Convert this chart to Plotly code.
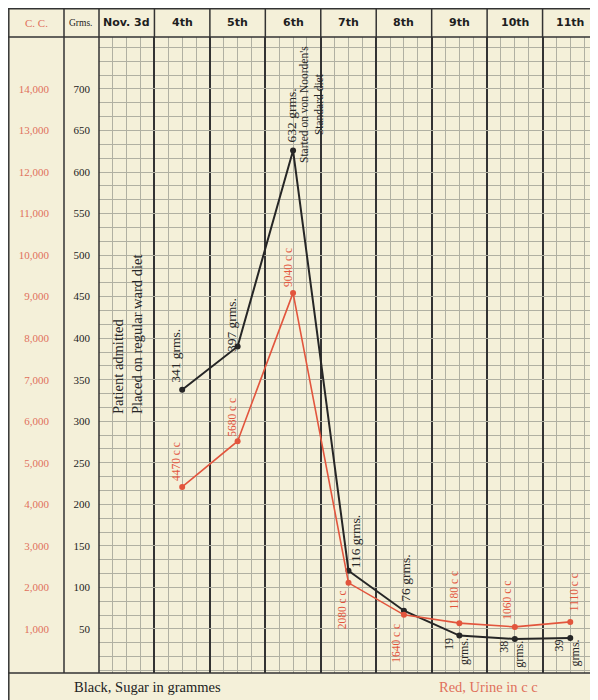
import plotly.graph_objects as go

# days (column index 0 = Nov. 3d)
day_labels = ["Nov. 3d", "4th", "5th", "6th", "7th", "8th", "9th", "10th", "11th"]
point_days = [1, 2, 3, 4, 5, 6, 7, 8]

# black: sugar in grammes
sugar_g = [338, 390, 626, 120, 72, 42, 38, 39]
sugar_text = ["341 grms.", "397 grms.", "632 grms.", "116 grms.", "76 grms.",
              "19<br>grms.", "38<br>grms.", "39<br>grms."]

# red: urine in c.c.
urine_cc = [4420, 5520, 9090, 2110, 1340, 1140, 1050, 1170]
urine_text = ["4470 c c", "5680 c c", "9040 c c", "2080 c c", "1640 c c",
              "1180 c c", "1060 c c", "1110 c c"]

grms_ticks = [50, 100, 150, 200, 250, 300, 350, 400, 450, 500, 550, 600, 650, 700]
cc_ticks = [1000, 2000, 3000, 4000, 5000, 6000, 7000, 8000, 9000, 10000,
            11000, 12000, 13000, 14000]
cc_ticktext = ["1,000", "2,000", "3,000", "4,000", "5,000", "6,000", "7,000",
               "8,000", "9,000", "10,000", "11,000", "12,000", "13,000", "14,000"]

BG = "#f4f0d9"
GRID = "#b0b0a2"
DARK = "#333333"
RED = "#e2553d"
RED_TXT = "#e0705c"
BLACK = "#262626"
SERIF = "Liberation Serif"

# the page puts the figure 8px in from the top-left corner
OFF = 8
W, H = 598 - OFF, 700 - OFF
L, T, B = 99 - OFF, 37 - OFF, 27
PW, PH = W - L, H - T - B


def px(x):
    # screen x -> paper x
    return (x - OFF - L) / PW


def py(y):
    # screen y -> paper y
    return (H - B - (y - OFF)) / PH


def dx(x):
    # screen x -> day-axis value
    return (x - OFF - L) / PW * 9


def gy(y):
    # screen y -> grammes
    return (670.5 - y) / 0.8308


xs = [d + 0.5 for d in point_days]

fig = go.Figure()
fig.add_trace(go.Scatter(
    x=xs, y=sugar_g, mode="lines+markers", yaxis="y",
    line=dict(color=BLACK, width=2), marker=dict(color=BLACK, size=6),
    hoverinfo="skip", showlegend=False,
))
fig.add_trace(go.Scatter(
    x=xs, y=urine_cc, mode="lines+markers", yaxis="y2",
    line=dict(color=RED, width=1.6), marker=dict(color=RED, size=6),
    hoverinfo="skip", showlegend=False,
))

annotations = []
mid = dict(xanchor="center", yanchor="middle", showarrow=False)

# header labels
for i, lab in enumerate(day_labels):
    annotations.append(dict(
        x=i + 0.5, y=py(23), xref="x", yref="paper", text=lab, **mid,
        font=dict(family="DejaVu Sans", size=11, color="#1e1e1e", weight="bold"),
    ))
annotations.append(dict(x=px(36), y=py(23), xref="paper", yref="paper", text="C. C.", **mid,
                        font=dict(family=SERIF, size=11, color=RED_TXT)))
annotations.append(dict(x=px(81), y=py(23), xref="paper", yref="paper", text="Grms.", **mid,
                        font=dict(family=SERIF, size=9.5, color="#222")))

# value labels, black
black_shift = [(-6, 34), (-6, 21), (-2, 35), (7, 29), (2, 33), (-3, -16), (-3, -15), (-3, -15)]
black_size = [13.5, 13.5, 13.5, 13.5, 13.5, 12, 12, 12]
for x, y, t, (sx, sy), fs in zip(xs, sugar_g, sugar_text, black_shift, black_size):
    annotations.append(dict(
        x=x, y=y, xref="x", yref="y", text=t, showarrow=False, textangle=-90,
        xshift=sx, yshift=sy, align="right",
        font=dict(family=SERIF, size=fs, color=BLACK),
    ))

# value labels, red
red_shift = [(-6, 25), (-5, 24), (-5, 25), (-7, -27), (-8, -28), (-5, 33), (-8, 27), (4, 30)]
for x, y, t, (sx, sy) in zip(xs, urine_cc, urine_text, red_shift):
    annotations.append(dict(
        x=x, y=y, xref="x", yref="y2", text=t, showarrow=False, textangle=-90,
        xshift=sx, yshift=sy,
        font=dict(family=SERIF, size=11.5, color=RED),
    ))

# notes
annotations.append(dict(
    x=dx(127), y=gy(335), xref="x", yref="y", textangle=-90, align="left",
    text="Patient admitted<br>Placed on regular ward diet", showarrow=False,
    font=dict(family=SERIF, size=14.5, color=BLACK),
))
annotations.append(dict(
    x=dx(312), y=gy(105), xref="x", yref="y", textangle=-90, align="center",
    text="Started on von Noorden's<br>Standard diet", showarrow=False,
    font=dict(family=SERIF, size=11.5, color=BLACK),
))

# footer
annotations.append(dict(x=px(72), y=py(687), xref="paper", yref="paper",
                        xanchor="left", yanchor="middle", showarrow=False,
                        text="Black, Sugar in grammes",
                        font=dict(family=SERIF, size=14.5, color="#222")))
annotations.append(dict(x=px(437), y=py(687), xref="paper", yref="paper",
                        xanchor="left", yanchor="middle", showarrow=False,
                        text="Red, Urine in c c",
                        font=dict(family=SERIF, size=14.5, color=RED_TXT)))

# frame lines
line_k = dict(color=DARK, width=1.5)
top = py(OFF + 0.8)
shapes = [
    dict(type="line", xref="paper", yref="paper", x0=px(OFF + 0.8), x1=px(OFF + 0.8),
         y0=top, y1=py(700), line=line_k),
    dict(type="line", xref="paper", yref="paper", x0=px(64), x1=px(64), y0=top, y1=py(673), line=line_k),
    dict(type="line", xref="paper", yref="paper", x0=px(99), x1=px(99), y0=top, y1=py(673), line=line_k),
    dict(type="line", xref="paper", yref="paper", x0=px(OFF), x1=px(598), y0=top, y1=top, line=line_k),
    dict(type="line", xref="paper", yref="paper", x0=px(OFF), x1=px(598), y0=py(37), y1=py(37), line=line_k),
    dict(type="line", xref="paper", yref="paper", x0=px(OFF), x1=px(598), y0=py(673), y1=py(673), line=line_k),
]
for i in range(1, 10):
    shapes.append(dict(type="line", xref="x", yref="paper", x0=i, x1=i,
                       y0=1, y1=top, line=line_k))

fig.update_layout(
    width=W, height=H,
    margin=dict(l=L, r=0, t=T, b=B),
    paper_bgcolor=BG, plot_bgcolor=BG,
    xaxis=dict(
        range=[0, 9], tick0=0, dtick=1, showticklabels=False, ticks="",
        showgrid=True, gridcolor=DARK, gridwidth=1.5, zeroline=False,
        minor=dict(dtick=0.25, tick0=0, showgrid=True, gridcolor=GRID, gridwidth=1),
    ),
    yaxis=dict(
        range=[-3, 762.5], tickmode="array", tickvals=grms_ticks, ticks="",
        showgrid=True, gridcolor=GRID, gridwidth=1, zeroline=False,
        ticklabelstandoff=8,
        tickfont=dict(family=SERIF, size=11, color="#222"),
        minor=dict(tick0=0, dtick=50 / 3, showgrid=True, gridcolor=GRID, gridwidth=1),
    ),
    yaxis2=dict(
        range=[-60, 15250], overlaying="y", side="left", anchor="x",
        tickmode="array", tickvals=cc_ticks, ticktext=cc_ticktext, ticks="",
        showgrid=False, zeroline=False, ticklabelstandoff=49,
        tickfont=dict(family=SERIF, size=11, color=RED_TXT),
    ),
    annotations=annotations,
    shapes=shapes,
    showlegend=False,
)

fig.write_html("out.html")
